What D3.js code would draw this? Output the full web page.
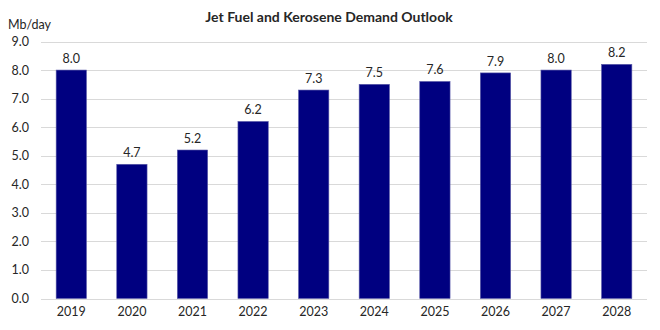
<!DOCTYPE html>
<html>
<head>
<meta charset="utf-8">
<script src="https://cdn.jsdelivr.net/npm/d3@7"></script>
<style>
  body { margin: 0; background: #fff; }
  text { font-family: Lato, "Open Sans", sans-serif; fill: #262626; }
</style>
</head>
<body>
<div id="chart"></div>
<script>
// data
var years = ["2019", "2020", "2021", "2022", "2023", "2024", "2025", "2026", "2027", "2028"];
var demand = [8.0, 4.7, 5.2, 6.2, 7.3, 7.5, 7.6, 7.9, 8.0, 8.2];
var yTicks = [0, 1, 2, 3, 4, 5, 6, 7, 8, 9];

var svgWidth = 660;
var svgHeight = 330;

var svg = d3.select("#chart")
  .append("svg")
  .attr("width", svgWidth)
  .attr("height", svgHeight);

// scales
var xScale = d3.scaleBand()
  .domain(years)
  .range([41, 647])
  .paddingInner(0.5)
  .paddingOuter(0.25);

var yScale = d3.scaleLinear()
  .domain([0, 9])
  .range([298.5, 41.5]);

// gridlines
svg.append("g")
  .selectAll("line")
  .data(yTicks)
  .enter()
  .append("line")
  .attr("x1", 41)
  .attr("x2", 647)
  .attr("y1", d => Math.round(yScale(d)) + 0.5)
  .attr("y2", d => Math.round(yScale(d)) + 0.5)
  .attr("stroke", "#d9d9d9")
  .attr("stroke-width", 1);

// y axis labels
var yAxis = d3.axisLeft(yScale)
  .tickValues(yTicks)
  .tickFormat(d3.format(".1f"))
  .tickSize(0)
  .tickPadding(0);

svg.append("g")
  .attr("transform", "translate(29,0)")
  .call(yAxis)
  .call(g => g.select(".domain").remove())
  .selectAll("text")
  .attr("font-size", 12.5)
  .attr("font-family", "Lato, 'Open Sans', sans-serif")
  .attr("fill", "#262626");

// x axis labels
var xAxis = d3.axisBottom(xScale).tickSize(0).tickPadding(0);

svg.append("g")
  .attr("transform", "translate(0,307)")
  .call(xAxis)
  .call(g => g.select(".domain").remove())
  .selectAll("text")
  .attr("font-size", 12.5)
  .attr("font-family", "Lato, 'Open Sans', sans-serif")
  .attr("fill", "#262626");

// bars
svg.append("g")
  .selectAll("rect")
  .data(demand)
  .enter()
  .append("rect")
  .attr("x", (d, i) => xScale(years[i]))
  .attr("y", d => yScale(d))
  .attr("width", xScale.bandwidth())
  .attr("height", d => yScale(0) - yScale(d))
  .attr("fill", "#000080")
  .attr("stroke", "#5a5aa8")
  .attr("stroke-width", 0.6);

// value labels
svg.append("g")
  .selectAll("text")
  .data(demand)
  .enter()
  .append("text")
  .attr("x", (d, i) => xScale(years[i]) + xScale.bandwidth() / 2)
  .attr("y", d => yScale(d) - 7)
  .attr("text-anchor", "middle")
  .attr("font-size", 12.5)
  .text(d => d3.format(".1f")(d));

// title
svg.append("text")
  .attr("x", 329)
  .attr("y", 22)
  .attr("text-anchor", "middle")
  .attr("font-size", 14)
  .attr("font-weight", "bold")
  .text("Jet Fuel and Kerosene Demand Outlook");

// unit label
svg.append("text")
  .attr("x", 8)
  .attr("y", 29)
  .attr("font-size", 12.5)
  .text("Mb/day");
</script>
</body>
</html>
